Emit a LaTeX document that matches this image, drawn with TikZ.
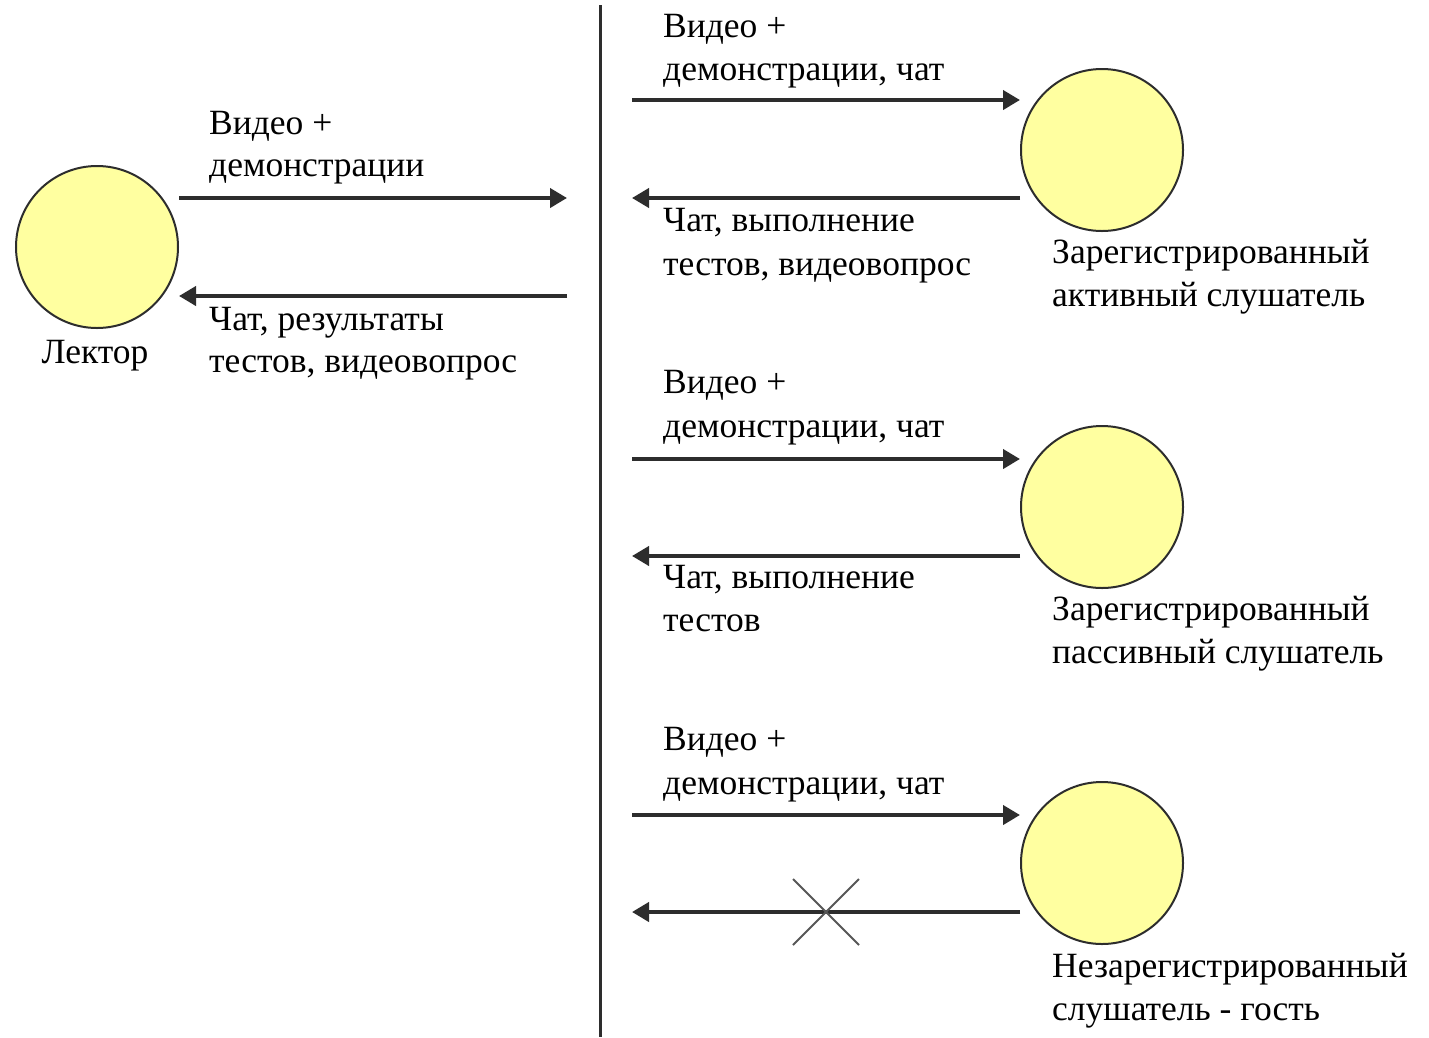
\documentclass[tikz,border=0pt]{standalone}
\usepackage{fontspec}
\setmainfont{Liberation Serif}
\usetikzlibrary{arrows.meta,calc}
\definecolor{circfill}{RGB}{255,255,160}
\definecolor{linegray}{RGB}{45,45,45}
\tikzset{
  person/.style={circle,draw=linegray,line width=2pt,fill=circfill,minimum size=162pt,inner sep=0pt},
  flow/.style={draw=linegray,line width=4pt,-{Triangle[length=17pt,width=19pt]}},
  lbl/.style={anchor=base west,inner sep=0pt,font=\fontsize{35.5}{44}\selectfont,text=black},
  clbl/.style={anchor=base,inner sep=0pt,font=\fontsize{35.5}{44}\selectfont,text=black},
  divider/.style={draw=linegray,line width=3pt},
  cross/.style={draw=linegray!80,line width=2pt}
}
\begin{document}
\begin{tikzpicture}[x=1pt,y=-1pt]
\useasboundingbox[fill=white] (0,0) rectangle (1429,1037);
% divider
\coordinate (dtop) at (600,5);
\coordinate (dbot) at (600,1037);
\draw[divider] (dtop) -- (dbot);
% lecturer
\node[person] (lec) at (97,247) {};
\node[clbl] (leclbl) at (95,363) {Лектор};
\coordinate (l1) at (567,198);
\coordinate (l2) at (567,296);
\draw[flow] (lec.east |- l1) -- (l1);
\draw[flow] (l2) -- (lec.east |- l2);
\node[lbl] (lt1) at (209,134) {Видео +};
\node[lbl] (lt2) at (209,176) {демонстрации};
\node[lbl] (lb1) at (209,330) {Чат, результаты};
\node[lbl] (lb2) at (209,372) {тестов, видеовопрос};
% listener 1
\node[person] (p1) at (1102,150) {};
\coordinate (a1) at (632,100);
\coordinate (b1) at (632,198);
\draw[flow] (a1) -- (p1.west |- a1);
\draw[flow] (p1.west |- b1) -- (b1);
\node[lbl] (t1a) at (663,37) {Видео +};
\node[lbl] (t1b) at (663,80) {демонстрации, чат};
\node[lbl] (t1c) at (663,231) {Чат, выполнение};
\node[lbl] (t1d) at (663,275) {тестов, видеовопрос};
\node[lbl] (n1a) at (1052,263) {Зарегистрированный};
\node[lbl] (n1b) at (1052,306) {активный слушатель};
% listener 2
\node[person] (p2) at (1102,507) {};
\coordinate (a2) at (632,459);
\coordinate (b2) at (632,556);
\draw[flow] (a2) -- (p2.west |- a2);
\draw[flow] (p2.west |- b2) -- (b2);
\node[lbl] (t2a) at (663,393) {Видео +};
\node[lbl] (t2b) at (663,437) {демонстрации, чат};
\node[lbl] (t2c) at (663,588) {Чат, выполнение};
\node[lbl] (t2d) at (663,631) {тестов};
\node[lbl] (n2a) at (1052,620) {Зарегистрированный};
\node[lbl] (n2b) at (1052,663) {пассивный слушатель};
% listener 3
\node[person] (p3) at (1102,863) {};
\coordinate (a3) at (632,815);
\coordinate (b3) at (632,912);
\draw[flow] (a3) -- (p3.west |- a3);
\draw[flow] (p3.west |- b3) -- (b3);
\node[lbl] (t3a) at (663,750) {Видео +};
\node[lbl] (t3b) at (663,794) {демонстрации, чат};
\node[lbl] (n3a) at (1052,977) {Незарегистрированный};
\node[lbl] (n3b) at (1052,1020) {слушатель - гость};
% blocked mark
\coordinate (xc) at (826,912);
\draw[cross] ($(xc)+(-33,-33)$) -- ($(xc)+(33,33)$);
\draw[cross] ($(xc)+(-33,33)$) -- ($(xc)+(33,-33)$);
\end{tikzpicture}
\end{document}
